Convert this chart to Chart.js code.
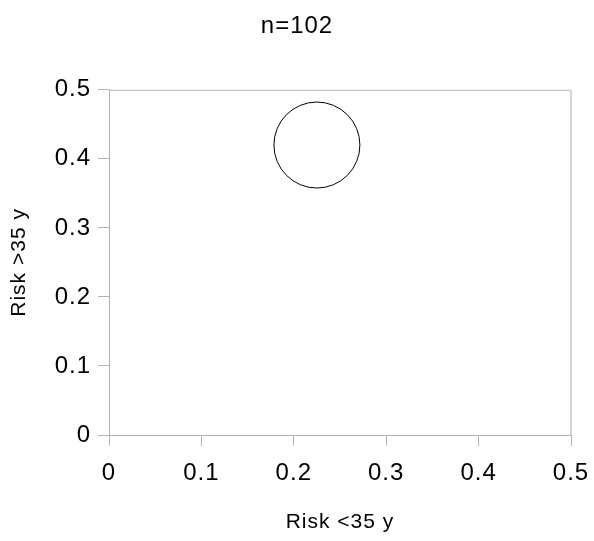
<!DOCTYPE html>
<html>
<head>
<meta charset="utf-8">
<script src="https://cdn.jsdelivr.net/npm/chart.js@4/dist/chart.umd.min.js"></script>
<style>
    html, body { margin: 0; padding: 0; background: #ffffff; }
    #bubble-chart { display: block; }
</style>
</head>
<body>
<canvas id="bubble-chart" width="594" height="541"></canvas>
<script>
// Dữ liệu biểu đồ
const riskUnder35 = [0.225];
const riskOver35 = [0.42];
const bubbleRadius = [43];
const axisTicks = [0, 0.1, 0.2, 0.3, 0.4, 0.5];
const chartTitle = "n=102";
const xTitle = "Risk <35 y";
const yTitle = "Risk >35 y";

const axisColor = "#b3b3b3";

// khoảng cách chữ giống bản gốc
const spacingPlugin = {
    id: "spacing",
    beforeUpdate: function (chart) {
        chart.ctx.letterSpacing = "1px";
    },
    beforeDraw: function (chart) {
        chart.ctx.letterSpacing = "1px";
    },
};

// viền trên và phải của vùng vẽ
const framePlugin = {
    id: "frame",
    beforeDatasetsDraw: function (chart) {
        const a = chart.chartArea;
        const ctx = chart.ctx;
        ctx.save();
        ctx.lineWidth = 1;
        ctx.strokeStyle = axisColor;
        ctx.beginPath();
        ctx.moveTo(a.left, a.top + 0.5);
        ctx.lineTo(a.right, a.top + 0.5);
        ctx.stroke();
        ctx.lineWidth = 2;
        ctx.strokeStyle = "#d4d4d4";
        ctx.beginPath();
        ctx.moveTo(a.right, a.top);
        ctx.lineTo(a.right, a.bottom);
        ctx.stroke();
        ctx.restore();
    },
};

const points = riskUnder35.map((x, i) => ({ x: x, y: riskOver35[i], r: bubbleRadius[i] }));

function tickText(value) {
    return Number(value.toFixed(1)).toString();
}

new Chart(document.getElementById("bubble-chart"), {
    type: "bubble",
    data: {
        datasets: [
            {
                label: chartTitle,
                data: points,
                backgroundColor: "rgba(255,255,255,0)",
                borderColor: "#000000",
                borderWidth: 1,
                hoverBorderWidth: 1,
            },
        ],
    },
    options: {
        responsive: false,
        animation: false,
        layout: { padding: 0, autoPadding: false },
        plugins: {
            legend: { display: false },
            tooltip: { enabled: false },
            title: {
                display: true,
                text: chartTitle,
                color: "#000000",
                font: { family: "'Liberation Sans', Arial, sans-serif", size: 24, weight: "normal" },
                padding: { top: 12, bottom: 49 },
            },
        },
        scales: {
            x: {
                type: "linear",
                min: axisTicks[0],
                max: axisTicks[axisTicks.length - 1],
                afterBuildTicks: function (scale) {
                    scale.ticks = axisTicks.map((v) => ({ value: v }));
                },
                afterFit: function (scale) {
                    scale.height = 106;
                    scale.paddingLeft = 0;
                    scale.paddingRight = 23;
                },
                grid: { drawOnChartArea: false, drawTicks: true, tickLength: 11, color: axisColor },
                border: { display: true, color: axisColor },
                ticks: {
                    color: "#000000",
                    padding: 13,
                    maxRotation: 0,
                    font: { family: "'Liberation Sans', Arial, sans-serif", size: 24 },
                    callback: tickText,
                },
                title: {
                    display: true,
                    text: xTitle,
                    color: "#000000",
                    font: { family: "'Liberation Sans', Arial, sans-serif", size: 21 },
                    padding: { top: 0, bottom: 6 },
                },
            },
            y: {
                type: "linear",
                min: axisTicks[0],
                max: axisTicks[axisTicks.length - 1],
                afterBuildTicks: function (scale) {
                    scale.ticks = axisTicks.map((v) => ({ value: v }));
                },
                afterFit: function (scale) {
                    scale.width = 109;
                },
                grid: { drawOnChartArea: false, drawTicks: true, tickLength: 11, color: axisColor },
                border: { display: true, color: axisColor },
                ticks: {
                    color: "#000000",
                    padding: 7,
                    font: { family: "'Liberation Sans', Arial, sans-serif", size: 24 },
                    callback: tickText,
                },
                title: {
                    display: true,
                    text: yTitle,
                    color: "#000000",
                    font: { family: "'Liberation Sans', Arial, sans-serif", size: 21 },
                    padding: { top: 7, bottom: 0 },
                },
            },
        },
    },
    plugins: [spacingPlugin, framePlugin],
});
</script>
</body>
</html>
